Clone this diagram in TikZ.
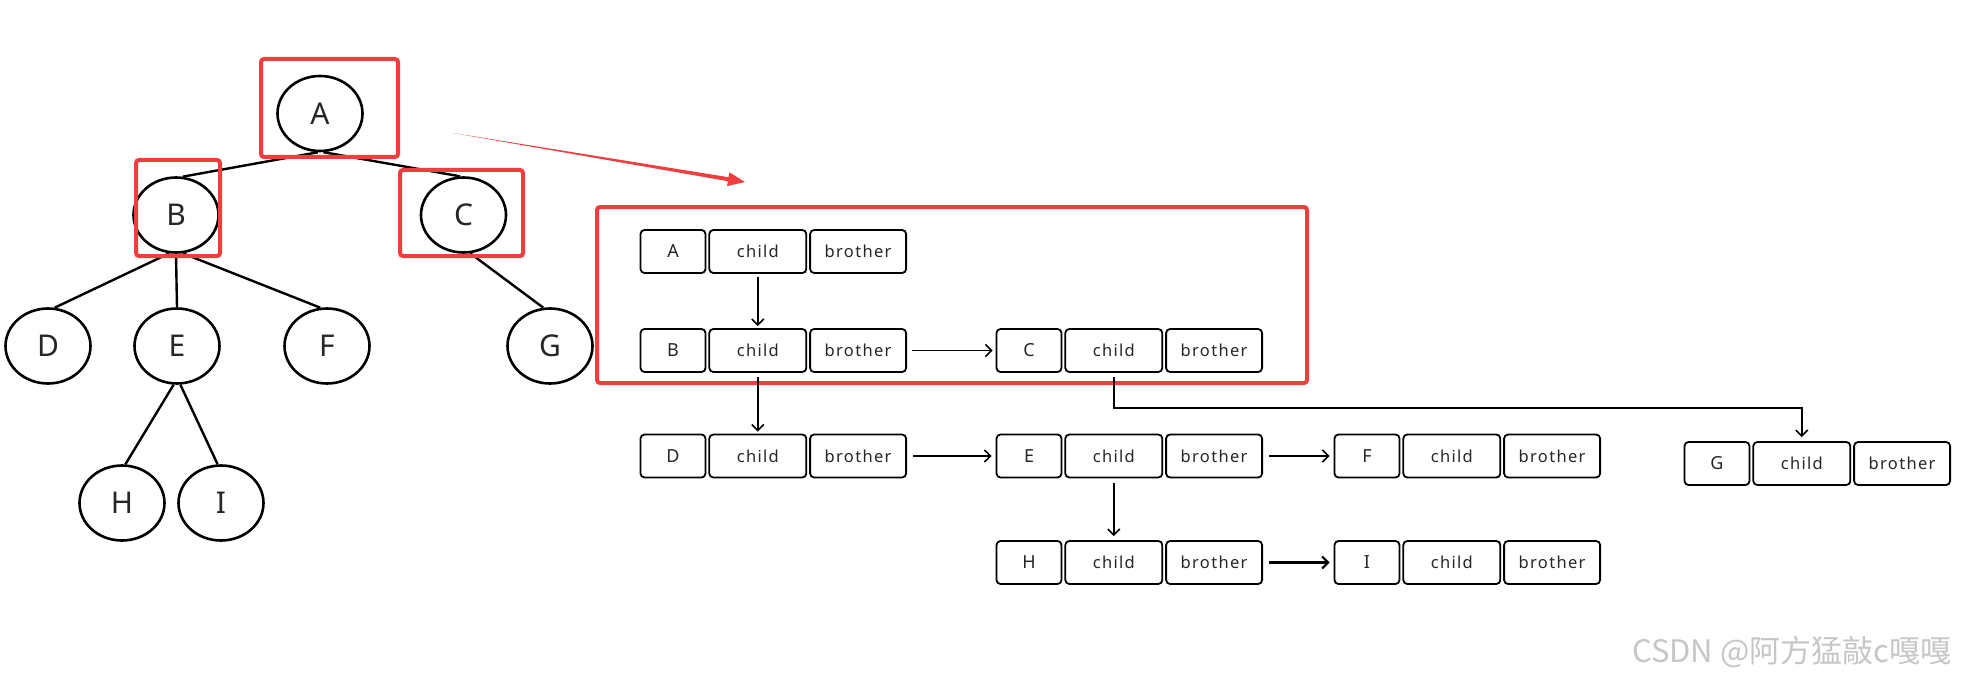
\documentclass[tikz,border=0pt]{standalone}
\usepackage{fontspec}
\setmainfont{Noto Sans}
\newfontfamily\wmfont{Noto Sans CJK SC}
\newfontfamily\fldfont[LetterSpace=8]{Noto Sans}
\usetikzlibrary{shapes.geometric,positioning,arrows.meta}
\definecolor{csred}{RGB}{240,62,62}
\begin{document}
\begin{tikzpicture}[x=1pt,y=-1pt,
	tnode/.style={draw,ellipse,line width=2.6,minimum width=85,minimum height=75,inner sep=0,text=black!85,font=\fontsize{30}{30}\selectfont},
	tline/.style={line width=2.4},
	redbox/.style={draw=csred,line width=4,rounded corners=3},
	lbl/.style={draw,rounded corners=4,line width=1.8,minimum width=65,minimum height=43,inner sep=0,text=black!85,font=\fontsize{18}{18}\selectfont},
	fld/.style={draw,rounded corners=4,line width=1.8,minimum height=43,inner sep=0,text=black!85,font=\fldfont\fontsize{16.5}{16.5}\selectfont},
	link/.style={line width=1.6,-{Straight Barb[length=6pt,width=12pt]}}]
		\useasboundingbox (0,0) rectangle (1961,687);
		\node[tnode] (A) at (320,113.5) {A};
		\node[tnode] (B) at (176,215) {B};
		\node[tnode] (C) at (463.5,215) {C};
		\node[tnode] (D) at (48,346) {D};
		\node[tnode] (E) at (177,346) {E};
		\node[tnode] (F) at (327,346) {F};
		\node[tnode] (G) at (550,346) {G};
		\node[tnode] (H) at (122,503) {H};
		\node[tnode] (I) at (221,503) {I};
		\draw[tline] (A.-93) -- (B.80);
		\draw[tline] (A.-85) -- (C.95);
		\draw[tline] (B.-100) -- (D.80);
		\draw[tline] (B.-90) -- (E.90);
		\draw[tline] (B.-80) -- (F.100);
		\draw[tline] (C.-80) -- (G.100);
		\draw[tline] (E.-95) -- (H.85);
		\draw[tline] (E.-85) -- (I.95);
		\draw[redbox] (261,59) rectangle (398,157);
		\draw[redbox] (136,160) rectangle (220,256);
		\draw[redbox] (400,170) rectangle (523,256);
		\coordinate (ra) at (453,133);
		\coordinate (rb) at (745,182);
		\fill[csred] (ra) -- (727.9,181.2) -- (727,186.1) -- (rb) -- (729.4,172.3) -- (728.5,177.2) -- cycle;
		\draw[redbox] (597,207) rectangle (1307,383);
		\foreach \n/\x/\y in {A/673/251.5,B/673/350.5,C/1029/350.5,D/673/456,E/1029/456,F/1367/456,G/1717/463.5,H/1029/562.5,I/1367/562.5}{
			\node[lbl] (l\n) at (\x,\y) {\n};
			\node[fld,minimum width=97,right=2pt of l\n] (c\n) {child};
			\node[fld,minimum width=96,right=2pt of c\n] (b\n) {brother};
		}
		\draw[link,shorten <=3pt,shorten >=2pt] (cA) -- (cB);
		\draw[link,shorten <=5pt,shorten >=3pt] (bB) -- (lC);
		\draw[link,shorten <=4pt,shorten >=2pt] (cB) -- (cD);
		\draw[link,shorten <=4pt,shorten >=4pt] (cC.south) -- ++(0,35) -| (cG.north);
		\draw[link,shorten <=6pt,shorten >=4pt] (bD) -- (lE);
		\draw[link,shorten <=6pt,shorten >=4pt] (bE) -- (lF);
		\draw[link,shorten <=5pt,shorten >=4pt] (cE) -- (cH);
		\draw[link,line width=2.2,shorten <=6pt,shorten >=4pt] (bH) -- (lI);
		\node[text=gray!45,font=\wmfont\fontsize{31}{31}\selectfont,anchor=east] (wm) at (1955,652) {CSDN @阿方猛敲c嘎嘎};
\end{tikzpicture}
\end{document}
